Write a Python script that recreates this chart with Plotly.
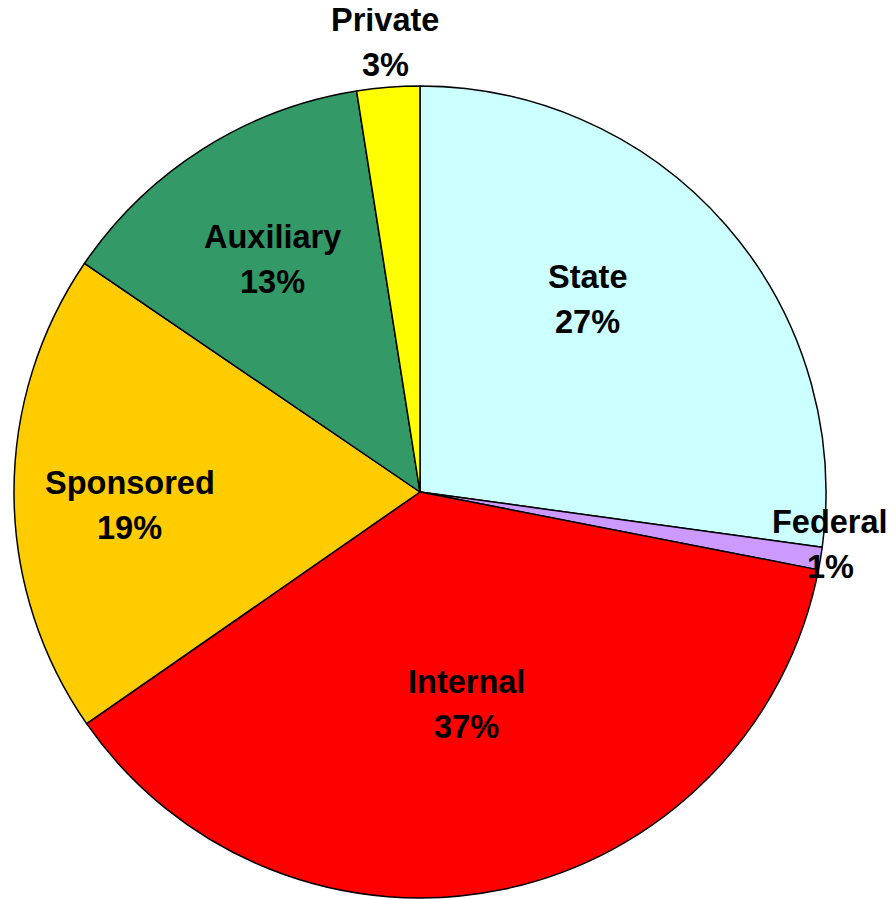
import plotly.graph_objects as go

categories = ["State", "Federal", "Internal", "Sponsored", "Auxiliary", "Private"]
values = [27.2, 0.9, 37.3, 19.2, 13.0, 2.5]
pct_labels = ["27%", "1%", "37%", "19%", "13%", "3%"]
colors = ["#CCFFFF", "#CC99FF", "#FF0000", "#FFCC00", "#339966", "#FFFF00"]
# label centre positions in screen pixels (x, y of name line)
label_pos = [(587, 277), (830, 522), (466, 682), (130, 483), (272, 237), (385, 20)]

W, H = 896, 899
OFF = 8  # page body margin
cx, cy, r = 420 - OFF, 492 - OFF, 406

fig = go.Figure(go.Pie(
    labels=categories, values=values, sort=False, direction="clockwise",
    rotation=0, textinfo="none", hoverinfo="label+percent",
    marker=dict(colors=colors, line=dict(color="black", width=1.5)),
    domain=dict(x=[(cx - r) / W, (cx + r) / W], y=[(H - cy - r) / H, (H - cy + r) / H]),
    showlegend=False,
))

font = dict(family="Liberation Sans, Arial, sans-serif", size=32.5, color="black")
for name, pct, (px, py) in zip(categories, pct_labels, label_pos):
    px, py = px - OFF, py - OFF
    fig.add_annotation(x=px / W, y=1 - py / H, xref="paper", yref="paper",
                       text=f"<b>{name}</b>", showarrow=False, font=font,
                       xanchor="center", yanchor="middle")
    fig.add_annotation(x=px / W, y=1 - (py + 45) / H, xref="paper", yref="paper",
                       text=f"<b>{pct}</b>", showarrow=False, font=font,
                       xanchor="center", yanchor="middle")

fig.update_layout(width=W, height=H, margin=dict(l=0, r=0, t=0, b=0),
                  paper_bgcolor="white", plot_bgcolor="white")
fig.write_html("out.html")
